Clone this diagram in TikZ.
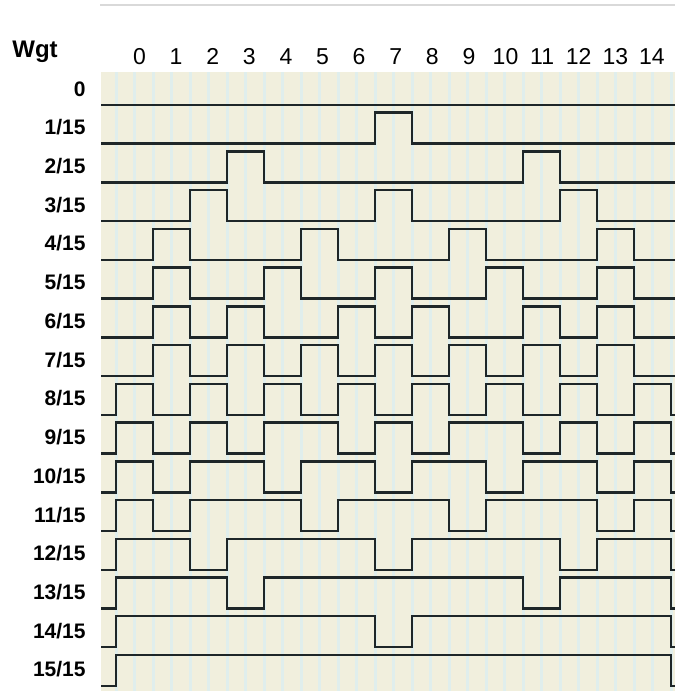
\documentclass[tikz,border=0pt]{standalone}
\usepackage{fontspec}
\setmainfont{Liberation Sans}

\definecolor{paper}{RGB}{241,239,221}
\definecolor{streak}{RGB}{224,238,236}
\definecolor{trace}{RGB}{30,38,40}

\begin{document}
\begin{tikzpicture}[
  x=0.5pt, y=-0.5pt,
  sig/.style={draw=trace, line width=1.25pt, line join=miter},
  wlabel/.style={anchor=base east, font=\fontsize{10.5}{12}\selectfont\bfseries, inner sep=0pt},
  slotlabel/.style={anchor=base, font=\fontsize{11.5}{12}\selectfont, inner sep=0pt},
]
\useasboundingbox (0,0) rectangle (675,691);

% === Header ===
\draw[gray!30, line width=1pt] (100,5) -- (675,5);
\node[anchor=base, font=\fontsize{12}{12}\selectfont\bfseries, inner sep=0pt] (wgt) at (35,57) {Wgt};
\foreach \k in {0,...,14}
  \node[slotlabel] (s\k) at ({139.5+36.6*\k},64.5) {\k};

% === Background ===
\fill[paper] (101,72) rectangle (675,691);
\foreach \i in {0,...,30}
  \draw[streak, line width=1.5pt] ({116+18.5*\i},72) -- ({116+18.5*\i},691);

% === Pulse trains, one row per weight ===
\foreach \n/\bits in {
  0/{0,0,0,0,0,0,0,0,0,0,0,0,0,0,0},
  1/{0,0,0,0,0,0,0,1,0,0,0,0,0,0,0},
  2/{0,0,0,1,0,0,0,0,0,0,0,1,0,0,0},
  3/{0,0,1,0,0,0,0,1,0,0,0,0,1,0,0},
  4/{0,1,0,0,0,1,0,0,0,1,0,0,0,1,0},
  5/{0,1,0,0,1,0,0,1,0,0,1,0,0,1,0},
  6/{0,1,0,1,0,0,1,0,1,0,0,1,0,1,0},
  7/{0,1,0,1,0,1,0,1,0,1,0,1,0,1,0},
  8/{1,0,1,0,1,0,1,0,1,0,1,0,1,0,1},
  9/{1,0,1,0,1,1,0,1,0,1,1,0,1,0,1},
  10/{1,0,1,1,0,1,1,0,1,1,0,1,1,0,1},
  11/{1,0,1,1,1,0,1,1,1,0,1,1,1,0,1},
  12/{1,1,0,1,1,1,1,0,1,1,1,1,0,1,1},
  13/{1,1,1,0,1,1,1,1,1,1,1,0,1,1,1},
  14/{1,1,1,1,1,1,1,0,1,1,1,1,1,1,1},
  15/{1,1,1,1,1,1,1,1,1,1,1,1,1,1,1}}{
  \pgfmathsetmacro{\base}{105+38.73*\n}
  \node[wlabel] (w\n) at (86,{\base-9}) {\ifnum\n=0 0\else\n/15\fi};
  \draw[sig] (101,\base) -- (116,\base)
    \foreach \lv [count=\k from 0] in \bits {
      -- ({116+37*\k},{\base-31*\lv}) -- ({116+37*(\k+1)},{\base-31*\lv})
    } -- (671,\base) -- (675,\base);
}

\end{tikzpicture}
\end{document}
